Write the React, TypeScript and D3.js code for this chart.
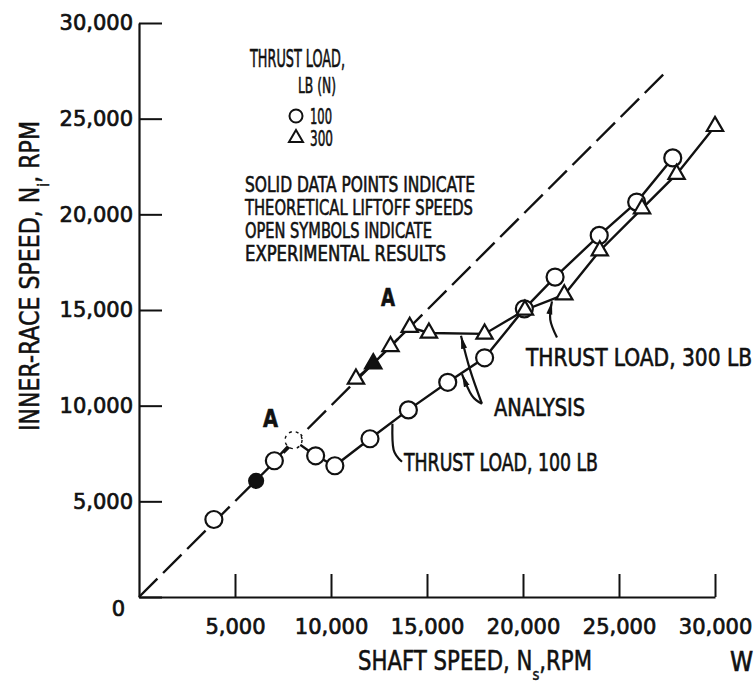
import { useEffect, useRef } from "react";
import * as d3 from "d3";

// --- data ---
// thrust load 100 lb (circles)
const load100Shaft = [3900, 6100, 7050, 8050, 9200, 10200, 12030, 14030, 16080, 18000, 20070, 21670, 23970, 25920, 27800];
const load100Inner = [4050, 6070, 7120, 8200, 7380, 6860, 8270, 9780, 11220, 12500, 15060, 16720, 18900, 20640, 22950];
const load100Theory = [1]; // solid = theoretical liftoff
const load100Faint = [3];

// thrust load 300 lb (triangles)
const load300Shaft = [11300, 12200, 13100, 14100, 15100, 18000, 20100, 22150, 24000, 26200, 28000, 30000];
const load300Inner = [11400, 12200, 13100, 14100, 13800, 13750, 15000, 15800, 18100, 20300, 22100, 24600];
const load300Theory = [1];

const xTicks = [5000, 10000, 15000, 20000, 25000, 30000];
const yTicks = [0, 5000, 10000, 15000, 20000, 25000, 30000];
const syncLineEnd = 27300; // dashed N_i = N_s line

// leader lines (data units)
const leader300 = [[21770, 13560], [21420, 14500], [21510, 15450]];
const leaderAnalysisA = [[17860, 10100], [17240, 11880], [16770, 13650]];
const leaderAnalysisB = [[17860, 10100], [17340, 10520], [16820, 11650]];
const leader100 = [[13200, 9050], [13260, 7700], [13700, 7070]];

const INK = "#111";
const HAND = "'DejaVu Sans Condensed', 'Liberation Sans Narrow', 'DejaVu Sans', sans-serif";

export default function App() {
  const ref = useRef<SVGSVGElement>(null);

  useEffect(() => {
    const width = 756;
    const height = 684;

    const x = d3.scaleLinear().domain([0, 30000]).range([139, 715]);
    const y = d3.scaleLinear().domain([0, 30000]).range([597, 23]);

    const svg = d3.select(ref.current)
      .attr("width", width)
      .attr("height", height)
      .attr("viewBox", `0 0 ${width} ${height}`);

    svg.selectAll("*").remove();
    svg.append("rect").attr("width", width).attr("height", height).attr("fill", "#fff");

    const defs = svg.append("defs");
    defs.append("marker")
      .attr("id", "barb")
      .attr("viewBox", "0 0 13 7")
      .attr("refX", 13)
      .attr("refY", 3.5)
      .attr("markerWidth", 13)
      .attr("markerHeight", 7)
      .attr("markerUnits", "userSpaceOnUse")
      .attr("orient", "auto")
      .append("path")
      .attr("d", "M0,0.5 L13,3.5 L0,6.5 Z")
      .attr("fill", INK);

    // --- axes ---
    const yAxis = svg.append("g")
      .attr("transform", `translate(${x(0)},0)`)
      .call(d3.axisLeft(y).tickValues(yTicks).tickSize(-23).tickSizeOuter(0).tickPadding(6)
        .tickFormat(d => d3.format(",")(d as number)));
    const xAxis = svg.append("g")
      .attr("transform", `translate(0,${y(0)})`)
      .call(d3.axisBottom(x).tickValues(xTicks).tickSize(-23).tickSizeOuter(0).tickPadding(22)
        .tickFormat(d => d3.format(",")(d as number)));

    [yAxis, xAxis].forEach(g => {
      g.select(".domain").attr("stroke", INK).attr("stroke-width", 2.2);
      g.selectAll(".tick line").attr("stroke", INK).attr("stroke-width", 2);
      g.selectAll("text")
        .attr("fill", INK)
        .attr("stroke", INK)
        .attr("stroke-width", 0.7)
        .style("font-family", "'DejaVu Sans', sans-serif")
        .style("font-size", "21px");
    });
    yAxis.selectAll<SVGTextElement, number>(".tick text")
      .filter(d => d === 0)
      .attr("transform", "translate(-8,12)");

    // axis titles
    const yTitle = svg.append("text")
      .attr("transform", `translate(30,276) rotate(-90)`)
      .attr("text-anchor", "middle")
      .attr("dy", "0.35em")
      .attr("textLength", 310)
      .attr("lengthAdjust", "spacingAndGlyphs")
      .attr("stroke", INK).attr("stroke-width", 0.5)
      .style("font-family", HAND).style("font-size", "26px").attr("fill", INK);
    yTitle.append("tspan").text("INNER-RACE SPEED, N");
    yTitle.append("tspan").attr("baseline-shift", "sub").style("font-size", "16px").text("i");
    yTitle.append("tspan").text(", RPM");

    const xTitle = svg.append("text")
      .attr("x", 358).attr("y", 670)
      .attr("textLength", 234)
      .attr("lengthAdjust", "spacingAndGlyphs")
      .attr("stroke", INK).attr("stroke-width", 0.5)
      .style("font-family", HAND).style("font-size", "26px").attr("fill", INK);
    xTitle.append("tspan").text("SHAFT  SPEED, N");
    xTitle.append("tspan").attr("baseline-shift", "sub").style("font-size", "16px").text("s");
    xTitle.append("tspan").text(",RPM");

    svg.append("text").attr("x", 730).attr("y", 671).text("W")
      .attr("stroke", INK).attr("stroke-width", 0.6)
      .style("font-family", HAND).style("font-size", "26px").attr("fill", INK);

    // --- synchronous (dashed) line ---
    svg.append("line")
      .attr("x1", x(0)).attr("y1", y(0))
      .attr("x2", x(syncLineEnd)).attr("y2", y(syncLineEnd))
      .attr("stroke", INK).attr("stroke-width", 2.4)
      .attr("stroke-dasharray", "26 8");

    // --- series lines ---
    const pts100 = load100Shaft.map((s, i) => [s, load100Inner[i]] as [number, number]);
    const pts300 = load300Shaft.map((s, i) => [s, load300Inner[i]] as [number, number]);
    const line = d3.line<[number, number]>().x(d => x(d[0])).y(d => y(d[1]));

    svg.append("path").attr("d", line(pts100.slice(2)))
      .attr("fill", "none").attr("stroke", INK).attr("stroke-width", 2.4);
    svg.append("path").attr("d", line(pts300))
      .attr("fill", "none").attr("stroke", INK).attr("stroke-width", 2.4);

    // --- leaders ---
    const curve = d3.line<number[]>().x(d => x(d[0])).y(d => y(d[1])).curve(d3.curveNatural);
    [leader300, leaderAnalysisA, leaderAnalysisB].forEach(l => {
      svg.append("path").attr("d", curve(l))
        .attr("fill", "none").attr("stroke", INK).attr("stroke-width", 2.2)
        .attr("marker-end", "url(#barb)");
    });
    svg.append("path").attr("d", curve(leader100))
      .attr("fill", "none").attr("stroke", INK).attr("stroke-width", 2.2);

    // --- markers ---
    svg.append("g").selectAll("circle")
      .data(pts100)
      .join("circle")
      .attr("cx", d => x(d[0]))
      .attr("cy", d => y(d[1]))
      .attr("r", (d, i) => load100Theory.includes(i) ? 7 : 8.5)
      .attr("fill", (d, i) => load100Theory.includes(i) ? INK : "#fff")
      .attr("stroke", INK)
      .attr("stroke-width", (d, i) => load100Faint.includes(i) ? 1.4 : 2.2)
      .attr("stroke-dasharray", (d, i) => load100Faint.includes(i) ? "3 4" : null);

    const tri = d3.symbol().type(d3.symbolTriangle).size(115);
    svg.append("g").selectAll("path")
      .data(pts300)
      .join("path")
      .attr("d", tri)
      .attr("transform", d => `translate(${x(d[0])},${y(d[1])})`)
      .attr("fill", (d, i) => load300Theory.includes(i) ? INK : "#fff")
      .attr("stroke", INK)
      .attr("stroke-width", 2.2);

    // --- legend & notes ---
    const hand = (tx: number, ty: number, str: string, len: number | null, size = 26, weight = "normal") => {
      const t = svg.append("text").attr("x", tx).attr("y", ty).text(str)
        .style("font-family", HAND).style("font-size", `${size}px`).style("font-weight", weight)
        .attr("fill", INK).attr("stroke", INK).attr("stroke-width", 0.6);
      if (len) t.attr("textLength", len).attr("lengthAdjust", "spacingAndGlyphs");
      return t;
    };

    hand(250, 67, "THRUST LOAD,", 95, 24);
    hand(298, 93, "LB (N)", 38, 22);
    svg.append("circle").attr("cx", 296).attr("cy", 116).attr("r", 6.5)
      .attr("fill", "#fff").attr("stroke", INK).attr("stroke-width", 2);
    hand(310, 124, "100", 22, 22);
    svg.append("path").attr("d", d3.symbol().type(d3.symbolTriangle).size(85)())
      .attr("transform", "translate(296,138)")
      .attr("fill", "#fff").attr("stroke", INK).attr("stroke-width", 2);
    hand(310, 146, "300", 23, 22);

    hand(245, 192, "SOLID DATA POINTS INDICATE", 230, 22);
    hand(245, 215, "THEORETICAL LIFTOFF SPEEDS", 228, 22);
    hand(245, 238, "OPEN SYMBOLS INDICATE", 187, 22);
    hand(245, 261, "EXPERIMENTAL RESULTS", 201, 22);

    hand(263, 427, "A", 15, 24, "bold");
    hand(381, 306, "A", 14, 24, "bold");

    hand(494, 416, "ANALYSIS", 91, 24);
    hand(526, 366, "THRUST LOAD, 300 LB", 226, 24);
    hand(404, 471, "THRUST LOAD, 100 LB", 194, 24);
  }, []);

  return (
    <svg ref={ref} style={{ position: "absolute", left: 0, top: 0, display: "block" }}></svg>
  );
}
